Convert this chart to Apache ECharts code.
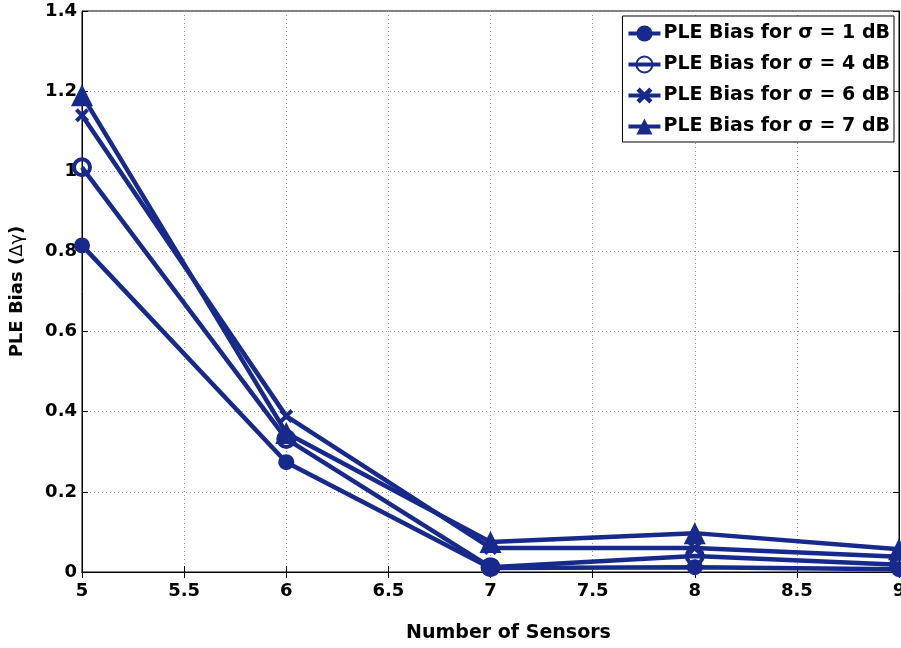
<!DOCTYPE html>
<html>
<head>
<meta charset="utf-8">
<script src="https://cdn.jsdelivr.net/npm/echarts@6/dist/echarts.min.js"></script>
<style>html,body{margin:0;padding:0;background:#fff;}#c{width:901px;height:648px;}</style>
</head>
<body>
<div id="c"></div>
<script>
const sensors = [5, 6, 7, 8, 9];
const seriesNames = ['PLE Bias for σ = 1 dB', 'PLE Bias for σ = 4 dB', 'PLE Bias for σ = 6 dB', 'PLE Bias for σ = 7 dB'];
const bias1 = [0.815, 0.274, 0.010, 0.012, 0.007];
const bias4 = [1.010, 0.332, 0.012, 0.040, 0.018];
const bias6 = [1.140, 0.389, 0.060, 0.060, 0.038];
const bias7 = [1.190, 0.347, 0.075, 0.097, 0.057];
const xTicks = [5, 5.5, 6, 6.5, 7, 7.5, 8, 8.5, 9];
const yTicks = [0, 0.2, 0.4, 0.6, 0.8, 1, 1.2, 1.4];

const COLOR = '#172a8c';
const FONT = 'DejaVu Sans, sans-serif';
const xMark = 'path://M0,2 L2,0 L5,3 L8,0 L10,2 L7,5 L10,8 L8,10 L5,7 L2,10 L0,8 L3,5 Z';

function mk(name, vals, symbol, size, extra) {
  return Object.assign({
    name: name,
    type: 'line',
    data: sensors.map((x, i) => [x, vals[i]]),
    symbol: symbol,
    symbolSize: size,
    showAllSymbol: true,
    clip: false,
    lineStyle: { color: COLOR, width: 4.5 },
    itemStyle: { color: COLOR },
    emphasis: { disabled: true }
  }, extra || {});
}

const chart = echarts.init(document.getElementById('c'), null, { renderer: 'canvas' });
chart.setOption({
  animation: false,
  backgroundColor: '#fff',
  grid: { left: 82, right: 2, top: 11, bottom: 76, outerBoundsMode: 'none', containLabel: false,
    show: true, borderColor: '#000', borderWidth: 1, backgroundColor: 'transparent' },
  legend: {
    data: seriesNames,
    orient: 'vertical',
    right: 7,
    top: 16,
    backgroundColor: '#fff',
    borderColor: '#000',
    borderWidth: 1,
    padding: [8, 4, 6, 4],
    itemGap: 12,
    itemWidth: 32,
    itemHeight: 20,
    lineStyle: { width: 4 },
    textStyle: { fontFamily: FONT, fontWeight: 'bold', fontSize: 19, color: '#000', padding: [0, 0, 0, -2] }
  },
  xAxis: [{
    type: 'value',
    min: 5, max: 9, interval: 0.5,
    name: 'Number of Sensors',
    nameLocation: 'middle',
    nameGap: 52,
    nameTextStyle: { fontFamily: FONT, fontWeight: 'bold', fontSize: 19, color: '#000', padding: [0, 0, 0, 36] },
    axisLine: { show: true, onZero: false, lineStyle: { color: '#000', width: 1 } },
    axisTick: { show: true, inside: true, length: 6, lineStyle: { color: '#000' } },
    axisLabel: { fontFamily: FONT, fontWeight: 'bold', fontSize: 18, color: '#000', margin: 10,
      formatter: v => xTicks.includes(v) ? String(v) : '' },
    splitLine: { show: true, lineStyle: { color: '#9a9a9a', type: [1, 3], width: 1 } }
  }, {
    type: 'value', position: 'top', min: 5, max: 9, interval: 0.5,
    axisLine: { show: true, lineStyle: { color: '#000' } },
    axisTick: { show: true, inside: true, length: 6, lineStyle: { color: '#000' } },
    axisLabel: { show: false }, splitLine: { show: false }
  }],
  yAxis: [{
    type: 'value',
    min: 0, max: 1.4, interval: 0.2,
    name: '{b|PLE Bias (}{n|Δγ}{b|)}',
    nameLocation: 'middle',
    nameGap: 56,
    nameTextStyle: { rich: {
      b: { fontFamily: FONT, fontWeight: 'bold', fontSize: 18, color: '#000' },
      n: { fontFamily: FONT, fontWeight: 'normal', fontSize: 18, color: '#000' }
    } },
    axisLine: { show: true, lineStyle: { color: '#000', width: 1 } },
    axisTick: { show: true, inside: true, length: 6, lineStyle: { color: '#000' } },
    axisLabel: { fontFamily: FONT, fontWeight: 'bold', fontSize: 18, color: '#000', margin: 5,
      formatter: v => { const t = yTicks.find(k => Math.abs(k - v) < 1e-9); return t === undefined ? '' : String(t); } },
    splitLine: { show: true, lineStyle: { color: '#9a9a9a', type: [1, 3], width: 1 } }
  }, {
    type: 'value', position: 'right', min: 0, max: 1.4, interval: 0.2,
    axisLine: { show: true, lineStyle: { color: '#000' } },
    axisTick: { show: true, inside: true, length: 6, lineStyle: { color: '#000' } },
    axisLabel: { show: false }, splitLine: { show: false }
  }],
  series: [
    mk(seriesNames[0], bias1, 'circle', 16),
    mk(seriesNames[1], bias4, 'circle', 16, { itemStyle: { color: 'rgba(255,255,255,0)', borderColor: COLOR, borderWidth: 4 } }),
    mk(seriesNames[2], bias6, xMark, 14),
    mk(seriesNames[3], bias7, 'triangle', 22)
  ]
});
</script>
</body>
</html>
